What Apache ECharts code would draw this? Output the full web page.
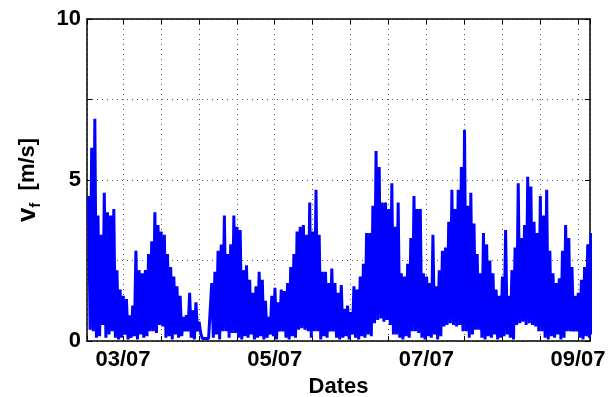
<!DOCTYPE html>
<html>
<head>
<meta charset="utf-8">
<script src="https://cdn.jsdelivr.net/npm/echarts@6/dist/echarts.min.js"></script>
<style>
  html, body { margin: 0; padding: 0; background: #fff; }
  #chart { width: 610px; height: 397px; }
</style>
</head>
<body>
<div id="chart"></div>
<script>
// hourly samples starting at 02/07 ~13:00 (x in days of the month)
var startDay = 2.545;
var stepDays = 1 / 24;

// local maxima within each hour [m/s]
var highs = [
    4.5, 6.0, 6.9, 3.9, 3.3, 4.6, 4.0, 3.9, 4.1, 2.2,
    1.6, 1.4, 1.3, 0.8, 1.1, 2.8, 2.2, 2.1, 2.2, 2.7,
    3.1, 4.0, 3.6, 3.4, 3.3, 2.7, 2.3, 2.0, 1.7, 1.4,
    0.75, 0.8, 1.5, 0.95, 1.2, 0.6, 0.08, 0.08, 0.08, 1.8,
    2.15, 2.8, 3.0, 3.9, 2.7, 3.0, 3.9, 3.55, 3.45, 2.2,
    2.35, 1.9, 1.5, 1.7, 2.15, 1.9, 1.25, 0.75, 1.4, 1.65,
    1.2, 1.6, 1.55, 1.8, 2.3, 2.7, 3.4, 3.55, 3.6, 3.3,
    4.3, 3.4, 4.7, 3.3, 2.15, 2.15, 1.8, 2.25, 1.8, 1.5,
    1.74, 1.0, 1.1, 0.9, 1.7, 1.6, 2.0, 2.4, 3.35, 3.35,
    4.2, 5.9, 5.4, 4.3, 4.3, 4.1, 4.9, 3.55, 4.3, 2.1,
    2.0, 2.4, 3.2, 4.5, 4.1, 4.1, 2.1, 2.0, 1.8, 3.3,
    1.7, 2.2, 2.8, 2.9, 3.7, 4.7, 4.1, 4.7, 5.4, 6.55,
    4.2, 4.6, 3.65, 2.7, 2.1, 3.35, 3.0, 2.5, 2.1, 1.6,
    1.4, 2.0, 3.45, 1.4, 2.2, 2.9, 4.9, 3.2, 3.6, 5.1,
    4.8, 3.7, 3.35, 4.5, 3.9, 4.7, 2.8, 2.1, 1.8, 1.95,
    2.8, 3.6, 3.2, 2.3, 1.4, 1.5, 1.9, 2.3, 3.0, 3.35
];

// local minima between two maxima [m/s]
var lows = [
    0.35, 0.3, 0.1, 0.15, 0.5, 0.1, 0.2, 0.3, 0.1, 0.05,
    0.1, 0.2, 0.05, 0.1, 0.15, 0.05, 0.2, 0.1, 0.15, 0.3,
    0.3, 0.25, 0.5, 0.45, 0.1, 0.15, 0.05, 0.2, 0.1, 0.15,
    0.3, 0.3, 0.1, 0.05, 0.3, 0.25, 0.06, 0.06, 0.06, 0.1,
    0.2, 0.05, 0.3, 0.3, 0.1, 0.25, 0.25, 0.1, 0.05, 0.15,
    0.1, 0.2, 0.05, 0.1, 0.15, 0.05, 0.1, 0.2, 0.15, 0.05,
    0.3, 0.3, 0.1, 0.05, 0.15, 0.1, 0.35, 0.4, 0.35, 0.3,
    0.1, 0.3, 0.3, 0.05, 0.15, 0.1, 0.3, 0.3, 0.1, 0.05,
    0.1, 0.15, 0.05, 0.2, 0.1, 0.05, 0.15, 0.1, 0.2, 0.15,
    0.55, 0.65, 0.7, 0.6, 0.65, 0.5, 0.2, 0.2, 0.1, 0.05,
    0.15, 0.1, 0.3, 0.3, 0.25, 0.1, 0.05, 0.15, 0.1, 0.2,
    0.05, 0.15, 0.45, 0.5, 0.55, 0.5, 0.45, 0.5, 0.3, 0.3,
    0.1, 0.2, 0.35, 0.35, 0.1, 0.05, 0.15, 0.1, 0.2, 0.05,
    0.1, 0.15, 0.2, 0.1, 0.05, 0.5, 0.55, 0.6, 0.5, 0.55,
    0.5, 0.45, 0.3, 0.3, 0.1, 0.05, 0.15, 0.1, 0.2, 0.05,
    0.1, 0.3, 0.3, 0.3, 0.3, 0.1, 0.05, 0.15, 0.1, 0.2
];

var labelDays = [3, 5, 7, 9];
var xLabels = ['03/07', '05/07', '07/07', '09/07'];
var yLabelValues = [0, 5, 10];

var series = [];
for (var i = 0; i < highs.length; i++) {
    var t = startDay + i * stepDays;
    series.push([t, highs[i]]);
    series.push([t + stepDays / 2, lows[i]]);
}

var font = 'Liberation Sans, Arial, Helvetica, sans-serif';
var black = '#000';
var gridDots = { color: '#555', width: 1, type: [1, 4] };

var chart = echarts.init(document.getElementById('chart'), null, { renderer: 'canvas' });

chart.setOption({
    animation: false,
    backgroundColor: '#fff',
    grid: { left: 87, right: 20, top: 19, bottom: 56, containLabel: false, outerBoundsMode: 'none' },
    xAxis: [{
        type: 'value', position: 'bottom',
        min: 2.525, max: 9.158, minInterval: 0.5, maxInterval: 0.5,
        name: 'Dates', nameLocation: 'middle', nameGap: 33,
        nameTextStyle: { fontFamily: font, fontWeight: 'bold', fontSize: 22, color: black },
        axisLine: { onZero: false, lineStyle: { color: black, width: 1.5 } },
        axisTick: { inside: true, length: 5, lineStyle: { color: black } },
        axisLabel: {
            interval: 0, margin: 8, showMinLabel: true, showMaxLabel: true,
            fontFamily: font, fontWeight: 'bold', fontSize: 22, color: black,
            formatter: function (v) {
                for (var k = 0; k < labelDays.length; k++) {
                    if (Math.abs(v - labelDays[k]) < 1e-6) return xLabels[k];
                }
                return '';
            }
        },
        splitLine: { show: true, lineStyle: gridDots }
    }, {
        type: 'value', position: 'top',
        min: 2.525, max: 9.158, minInterval: 0.5, maxInterval: 0.5,
        axisLine: { onZero: false, lineStyle: { color: black, width: 1.5 } },
        axisTick: { inside: true, length: 5, lineStyle: { color: black } },
        axisLabel: { show: false },
        splitLine: { show: false }
    }],
    yAxis: [{
        type: 'value', position: 'left',
        min: 0, max: 10, interval: 2.5,
        name: '{v|v}{f|f}{u|  [m/s]}', nameLocation: 'middle', nameGap: 44, nameRotate: 90,
        nameTextStyle: {
            fontFamily: font, fontWeight: 'bold', color: black,
            rich: {
                v: { fontFamily: font, fontWeight: 'bold', fontSize: 26, color: black },
                f: { fontFamily: font, fontWeight: 'bold', fontSize: 15, color: black, padding: [16, 0, 0, 0] },
                u: { fontFamily: font, fontWeight: 'bold', fontSize: 22, color: black }
            }
        },
        axisLine: { onZero: false, lineStyle: { color: black, width: 1.5 } },
        axisTick: { inside: true, length: 5, lineStyle: { color: black } },
        axisLabel: {
            margin: 6, fontFamily: font, fontWeight: 'bold', fontSize: 22, color: black,
            formatter: function (v) { return yLabelValues.indexOf(v) >= 0 ? String(v) : ''; }
        },
        splitLine: { show: true, lineStyle: gridDots }
    }, {
        type: 'value', position: 'right',
        min: 0, max: 10, interval: 2.5,
        axisLine: { onZero: false, lineStyle: { color: black, width: 1.5 } },
        axisTick: { inside: true, length: 5, lineStyle: { color: black } },
        axisLabel: { show: false },
        splitLine: { show: false }
    }],
    series: [{
        type: 'line',
        xAxisIndex: 0, yAxisIndex: 0,
        data: series,
        symbol: 'none',
        clip: true,
        lineStyle: { color: '#0000ff', width: 3, join: 'bevel' },
        itemStyle: { color: '#0000ff' }
    }]
});
</script>
</body>
</html>
